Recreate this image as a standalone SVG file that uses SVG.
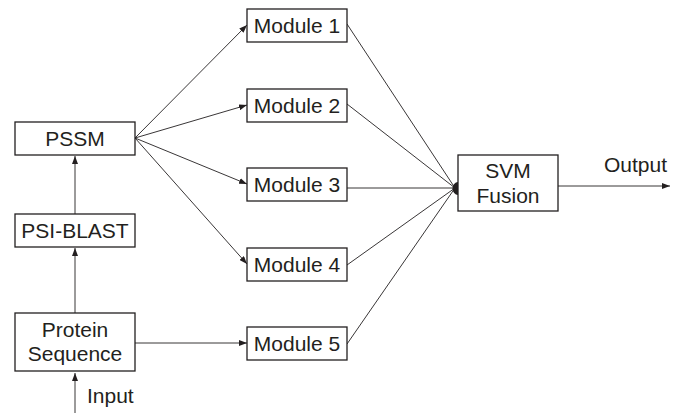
<svg xmlns="http://www.w3.org/2000/svg" width="680" height="413" viewBox="0 0 680 413">
<defs>
<marker id="ah" markerWidth="8" markerHeight="6" refX="8" refY="3" orient="auto" markerUnits="userSpaceOnUse">
<path d="M0,0 L8,3 L0,6 Z" fill="#231f20"/>
</marker>
<style>
.box{fill:#fff;stroke:#231f20;stroke-width:1.3}
.t{font-family:"Liberation Sans",Arial,sans-serif;font-size:21px;fill:#231f20;text-anchor:middle}
.c{stroke:#231f20;stroke-width:0.9;fill:none}
.ca{stroke:#231f20;stroke-width:0.9;fill:none;marker-end:url(#ah)}
</style>
</defs>
<rect width="680" height="413" fill="#fff"/>
<g id="connectors">
<line class="ca" x1="75" y1="413" x2="75" y2="373"/>
<line class="ca" x1="75" y1="313" x2="75" y2="248"/>
<line class="ca" x1="75" y1="214" x2="75" y2="156"/>
<line class="ca" x1="135" y1="138" x2="247" y2="25"/>
<line class="ca" x1="135" y1="138" x2="247" y2="105"/>
<line class="ca" x1="135" y1="138" x2="247" y2="184"/>
<line class="ca" x1="135" y1="138" x2="247" y2="264"/>
<line class="ca" x1="135" y1="343" x2="247" y2="343"/>
<line class="c" x1="347" y1="24" x2="455" y2="188"/>
<line class="c" x1="347" y1="104" x2="455" y2="188"/>
<line class="c" x1="347" y1="188" x2="455" y2="188"/>
<line class="c" x1="347" y1="265" x2="455" y2="188"/>
<line class="c" x1="347" y1="344" x2="455" y2="188"/>
<path d="M458,182 A5.5,6.5 0 0 0 458,195 Z" fill="#231f20"/>
<line class="ca" x1="558" y1="186" x2="670" y2="186"/>
</g>
<g id="pssm"><rect class="box" x="15" y="122" width="120" height="33"/><text class="t" x="75" y="146">PSSM</text></g>
<g id="psiblast"><rect class="box" x="15" y="214" width="120" height="33"/><text class="t" x="75" y="238">PSI-BLAST</text></g>
<g id="protein"><rect class="box" x="15" y="313" width="120" height="58"/><text class="t" x="75" y="337">Protein</text><text class="t" x="75" y="361">Sequence</text></g>
<g id="module1"><rect class="box" x="247" y="9" width="100" height="33"/><text class="t" x="297" y="33">Module 1</text></g>
<g id="module2"><rect class="box" x="247" y="89" width="100" height="33"/><text class="t" x="297" y="113">Module 2</text></g>
<g id="module3"><rect class="box" x="247" y="168" width="100" height="33"/><text class="t" x="297" y="192">Module 3</text></g>
<g id="module4"><rect class="box" x="247" y="248" width="100" height="33"/><text class="t" x="297" y="272">Module 4</text></g>
<g id="module5"><rect class="box" x="247" y="327" width="100" height="33"/><text class="t" x="297" y="351">Module 5</text></g>
<g id="svm"><rect class="box" x="458" y="155" width="100" height="56"/><text class="t" x="508" y="178">SVM</text><text class="t" x="508" y="203">Fusion</text></g>
<g id="labels">
<text class="t" x="604" y="172" style="text-anchor:start">Output</text>
<text class="t" x="87" y="403" style="text-anchor:start">Input</text>
</g>
</svg>
